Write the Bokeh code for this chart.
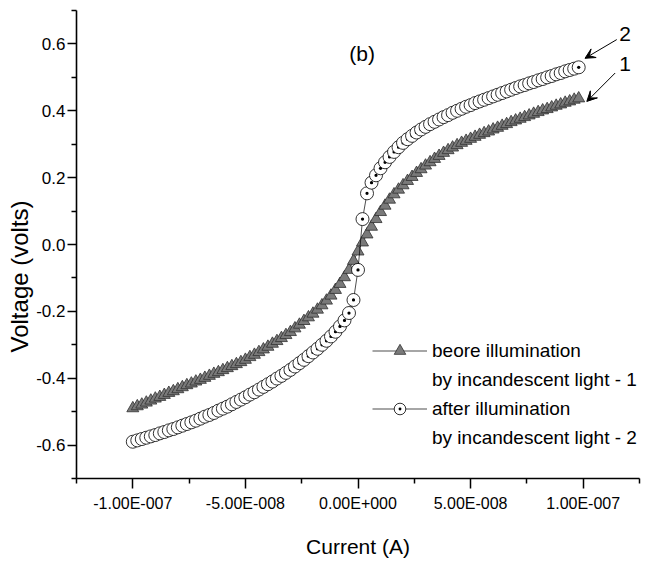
import numpy as np
from bokeh.plotting import figure
from bokeh.models import (FixedTicker, CustomJSTickFormatter, Legend, LegendItem,
                          Arrow, VeeHead, Label, Title, ColumnDataSource, Range1d)
from bokeh.embed import file_html
from bokeh.resources import INLINE

# ---- data ----
current_nA = [-100, -98, -96, -94, -92, -90, -88, -86, -84, -82,
              -80, -78, -76, -74, -72, -70, -68, -66, -64, -62,
              -60, -58, -56, -54, -52, -50, -48, -46, -44, -42,
              -40, -38, -36, -34, -32, -30, -28, -26, -24, -22,
              -20, -18, -16, -14, -12, -10, -8, -6, -4, -2,
              0, 2, 4, 6, 8, 10, 12, 14, 16, 18,
              20, 22, 24, 26, 28, 30, 32, 34, 36, 38,
              40, 42, 44, 46, 48, 50, 52, 54, 56, 58,
              60, 62, 64, 66, 68, 70, 72, 74, 76, 78,
              80, 82, 84, 86, 88, 90, 92, 94, 96, 98]

voltage_before = [-0.490, -0.484, -0.479, -0.473, -0.467, -0.461, -0.456, -0.450, -0.444, -0.439,
                  -0.433, -0.427, -0.421, -0.416, -0.410, -0.405, -0.399, -0.393, -0.387, -0.382,
                  -0.376, -0.370, -0.364, -0.358, -0.352, -0.345, -0.337, -0.330, -0.322, -0.314,
                  -0.306, -0.297, -0.289, -0.280, -0.271, -0.262, -0.251, -0.240, -0.229, -0.218,
                  -0.207, -0.195, -0.182, -0.168, -0.153, -0.136, -0.118, -0.098, -0.076, -0.049,
                  -0.021, 0.006, 0.030, 0.053, 0.076, 0.097, 0.116, 0.134, 0.150, 0.164,
                  0.177, 0.190, 0.202, 0.214, 0.225, 0.236, 0.246, 0.256, 0.265, 0.274,
                  0.282, 0.290, 0.297, 0.304, 0.310, 0.316, 0.322, 0.328, 0.333, 0.338,
                  0.344, 0.349, 0.355, 0.360, 0.366, 0.371, 0.376, 0.381, 0.386, 0.391,
                  0.396, 0.401, 0.405, 0.410, 0.415, 0.419, 0.424, 0.428, 0.433, 0.437]

voltage_after = [-0.590, -0.586, -0.582, -0.578, -0.574, -0.570, -0.565, -0.561, -0.556, -0.552,
                 -0.547, -0.542, -0.537, -0.532, -0.527, -0.521, -0.515, -0.510, -0.504, -0.497,
                 -0.491, -0.485, -0.478, -0.471, -0.464, -0.457, -0.449, -0.442, -0.434, -0.426,
                 -0.418, -0.410, -0.401, -0.393, -0.384, -0.375, -0.365, -0.355, -0.345, -0.334,
                 -0.323, -0.312, -0.300, -0.288, -0.275, -0.261, -0.245, -0.227, -0.205, -0.166,
                 -0.076, 0.076, 0.153, 0.185, 0.207, 0.228, 0.246, 0.262, 0.277, 0.291,
                 0.304, 0.315, 0.325, 0.335, 0.344, 0.352, 0.360, 0.367, 0.374, 0.381,
                 0.387, 0.394, 0.400, 0.406, 0.412, 0.417, 0.423, 0.428, 0.433, 0.438,
                 0.443, 0.448, 0.453, 0.458, 0.463, 0.468, 0.473, 0.477, 0.482, 0.486,
                 0.491, 0.495, 0.500, 0.504, 0.509, 0.513, 0.518, 0.522, 0.526, 0.530]

x_ticks = [-1e-7, -5e-8, 0.0, 5e-8, 1e-7]
x_tick_labels = ["-1.00E-007", "-5.00E-008", "0.00E+000", "5.00E-008", "1.00E-007"]
x_minor_ticks = [-1.25e-7, -7.5e-8, -2.5e-8, 2.5e-8, 7.5e-8, 1.25e-7]
y_ticks = [-0.6, -0.4, -0.2, 0.0, 0.2, 0.4, 0.6]
y_tick_labels = ["-0.6", "-0.4", "-0.2", "0.0", "0.2", "0.4", "0.6"]
y_minor_ticks = [-0.7, -0.5, -0.3, -0.1, 0.1, 0.3, 0.5, 0.7]

legend_lines = ["beore illumination", "by incandescent light - 1",
                "after illumination", "by incandescent light - 2"]
x_title = "Current (A)"
y_title = "Voltage (volts)"

FONT = "Liberation Sans"

current_A = np.array(current_nA, dtype=float) * 1e-9
src = ColumnDataSource(dict(current=current_A, before=voltage_before, after=voltage_after))

p = figure(width=664, height=561, output_backend="svg", toolbar_location=None,
           x_range=Range1d(-1.25e-7, 1.25e-7), y_range=Range1d(-0.7, 0.7),
           min_border_left=76, min_border_right=25, min_border_top=10, min_border_bottom=83,
           x_axis_label=x_title)
p.outline_line_color = None
p.xgrid.visible = False
p.ygrid.visible = False
p.background_fill_color = "white"
p.border_fill_color = "white"

fmt_code = """
let b = 0, d = Infinity;
for (let i = 0; i < tvals.length; i++) {
  const e = Math.abs(tvals[i] - tick);
  if (e < d) { d = e; b = i; }
}
return tlabels[b];
"""
p.xaxis.ticker = FixedTicker(ticks=x_ticks, minor_ticks=x_minor_ticks)
p.xaxis.formatter = CustomJSTickFormatter(args=dict(tvals=x_ticks, tlabels=x_tick_labels), code=fmt_code)
p.yaxis.ticker = FixedTicker(ticks=y_ticks, minor_ticks=y_minor_ticks)
p.yaxis.formatter = CustomJSTickFormatter(args=dict(tvals=y_ticks, tlabels=y_tick_labels), code=fmt_code)

for ax in (p.xaxis[0], p.yaxis[0]):
    ax.axis_line_width = 1.6
    ax.axis_line_color = "black"
    ax.major_tick_line_width = 1.5
    ax.minor_tick_line_width = 1.5
    ax.major_tick_line_color = "black"
    ax.minor_tick_line_color = "black"
    ax.major_tick_in = 0
    ax.minor_tick_in = 0
    ax.major_label_text_font = FONT
    ax.major_label_text_color = "black"
    ax.axis_label_text_font = FONT
    ax.axis_label_text_font_style = "normal"
    ax.axis_label_text_color = "black"

p.xaxis.major_tick_out = 10
p.xaxis.minor_tick_out = 5
p.xaxis.major_label_standoff = 6
p.xaxis.major_label_text_font_size = "16px"
p.xaxis.axis_label_text_font_size = "21px"
p.xaxis.axis_label_standoff = 20

p.yaxis.major_tick_out = 9
p.yaxis.minor_tick_out = 5
p.yaxis.major_label_standoff = 2
p.yaxis.major_label_text_font_size = "17px"

# y-axis title as a side title, shifted lower than the frame centre as in the reference
p.add_layout(Title(text=y_title, align="left", offset=126, vertical_align="middle",
                   text_font=FONT, text_font_size="24px", text_font_style="normal",
                   text_color="black", standoff=0), "left")

l1 = p.line("current", "before", source=src, line_color="black", line_width=0.7)
s1 = p.scatter("current", "before", source=src, marker="triangle", size=12,
               fill_color="#7a7a7a", line_color="#303030", line_width=0.8)
l2 = p.line("current", "after", source=src, line_color="black", line_width=0.7)
s2 = p.scatter("current", "after", source=src, marker="circle_dot", size=13,
               fill_color="white", line_color="black", line_width=0.8)

# invisible renderer for the second line of each legend entry
blank = p.scatter(x=[], y=[], size=1, fill_alpha=0, line_alpha=0)

legend = Legend(items=[
    LegendItem(label=legend_lines[0], renderers=[l1, s1]),
    LegendItem(label=legend_lines[1], renderers=[blank]),
    LegendItem(label=legend_lines[2], renderers=[l2, s2]),
    LegendItem(label=legend_lines[3], renderers=[blank]),
], location=(296, 26), glyph_width=55, glyph_height=29, label_height=22,
    label_standoff=5, spacing=0, padding=0, margin=0,
    border_line_color=None, background_fill_alpha=0,
    label_text_font=FONT, label_text_font_size="19px", label_text_color="black")
p.add_layout(legend, "center")

for xs, ys, xe, ye in [(114.9e-9, 0.613, 100.8e-9, 0.557), (114.2e-9, 0.513, 101.6e-9, 0.428)]:
    p.add_layout(Arrow(end=VeeHead(size=10, fill_color="black", line_color="black", line_width=1),
                       x_start=xs, y_start=ys, x_end=xe, y_end=ye,
                       line_color="black", line_width=1))

for txt, x, y, fs in [("2", 118.6e-9, 0.631, "21px"), ("1", 118.6e-9, 0.539, "21px"),
                      ("(b)", 1.8e-9, 0.572, "21px")]:
    p.add_layout(Label(x=x, y=y, text=txt, text_font=FONT, text_font_size=fs,
                       text_align="center", text_baseline="middle", text_color="black"))

open("out.html", "w").write(file_html(p, INLINE))
